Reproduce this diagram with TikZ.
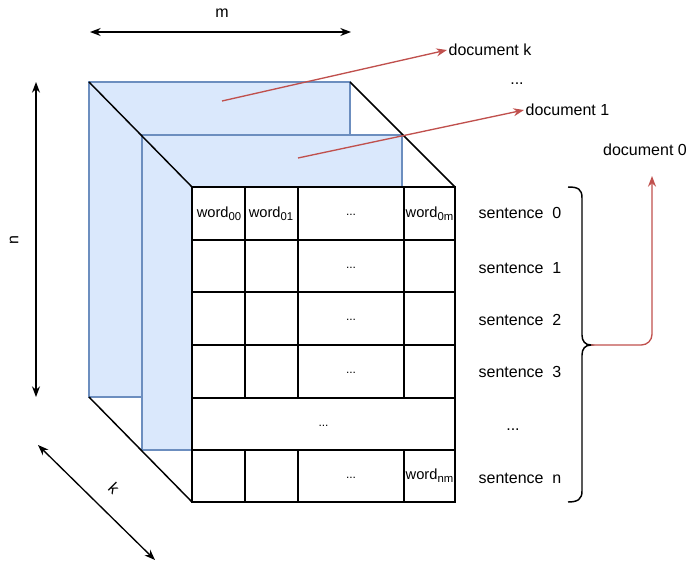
\documentclass[tikz,border=0pt]{standalone}
\usepackage{fontspec}
\setmainfont{Liberation Sans}
\usetikzlibrary{arrows.meta}
\definecolor{planefill}{HTML}{DAE8FC}
\definecolor{planeblue}{HTML}{6C8EBF}
\definecolor{docred}{HTML}{C0504D}
\newcommand{\wordsub}[1]{word\raisebox{-0.35ex}{\fontsize{8.5}{9}\selectfont #1}}
\begin{document}
\begin{tikzpicture}[x=0.75pt,y=-0.75pt,
  plane/.style={draw=planeblue, fill=planefill, line width=0.9pt},
  edge/.style={draw=black, line width=1.1pt},
  celltxt/.style={font=\fontsize{11}{13}\selectfont, inner sep=0pt},
  dots/.style={font=\fontsize{9}{10}\selectfont, inner sep=0pt},
  lbl/.style={font=\fontsize{12}{14}\selectfont, inner sep=1pt},
  redarrow/.style={draw=docred, line width=1pt, -{Stealth[length=8pt,width=6pt]}},
  dimarrow/.style={draw=black, line width=1pt, {Stealth[length=8pt,width=6pt]}-{Stealth[length=8pt,width=6pt]}}]
\useasboundingbox (0,0) rectangle (688,564);

% planes
\draw[plane] (89,82) rectangle (350,397);
\draw[plane] (142,135) rectangle (402,450);

% cube edges
\coordinate (btl) at (89,82);
\coordinate (btr) at (350,82);
\coordinate (bbl) at (89,397);
\coordinate (ftl) at (192,187);
\coordinate (ftr) at (455,187);
\coordinate (fbl) at (192,502);
\draw[edge] (btl) -- (ftl);
\draw[edge] (btr) -- (ftr);
\draw[edge] (bbl) -- (fbl);

% front grid
\draw[edge, fill=white] (192,187) rectangle (455,502);
\foreach \yy in {240,292,345,398,450} \draw[edge] (192,\yy) -- (455,\yy);
\foreach \xx in {245,298,404} {
  \draw[edge] (\xx,187) -- (\xx,398);
  \draw[edge] (\xx,450) -- (\xx,502);
}

% cell texts
\node[celltxt] (w00) at (219,214) {\wordsub{00}};
\node[celltxt] (w01) at (271,214) {\wordsub{01}};
\node[dots] (d0) at (351,215) {...};
\node[celltxt] (w0m) at (429.5,214) {\wordsub{0m}};
\node[dots] (d1) at (351,268) {...};
\node[dots] (d2) at (351,320) {...};
\node[dots] (d3) at (351,373) {...};
\node[dots] (d4) at (323.5,426) {...};
\node[dots] (d5) at (351,478) {...};
\node[celltxt] (wnm) at (429.5,476) {\wordsub{nm}};

% sentence labels
\node[lbl] (s0) at (520,213) {sentence\ \ 0};
\node[lbl] (s1) at (520,268) {sentence\ \ 1};
\node[lbl] (s2) at (520,320) {sentence\ \ 2};
\node[lbl] (s3) at (520,372) {sentence\ \ 3};
\node[lbl] (sd) at (513,430) {...};
\node[lbl] (sn) at (520,478) {sentence\ \ n};

% brace
\coordinate (bracetip) at (591,345);
\draw[edge] (568,187) .. controls (578,187) and (582,189) .. (582,198) -- (582,335)
  .. controls (582,341) and (585,345) .. (bracetip)
  .. controls (585,345) and (582,349) .. (582,355) -- (582,491)
  .. controls (582,499) and (578,502) .. (568,502);

% document labels
\node[lbl, anchor=west] (dk) at (447,50) {document k};
\node[lbl] (ddots) at (517,84) {...};
\node[lbl, anchor=west] (d1doc) at (524,110) {document 1};
\node[lbl] (d0doc) at (645,150) {document 0};

% red arrows
\coordinate (pk) at (222,101);
\coordinate (p1) at (298,158);
\coordinate (d0end) at (652,176);
\draw[redarrow] (pk) -- (dk.west);
\draw[redarrow] (p1) -- (d1doc.west);
\draw[redarrow, rounded corners=8pt] (bracetip) -| (d0end);

% dimension arrows
\coordinate (m1) at (90,32);
\coordinate (m2) at (351,32);
\coordinate (n1) at (36,82);
\coordinate (n2) at (36,397);
\coordinate (k1) at (38,445);
\coordinate (k2) at (155,560);
\draw[dimarrow] (m1) -- (m2);
\draw[dimarrow] (n1) -- (n2);
\draw[dimarrow] (k1) -- (k2);
\node[lbl] (mlab) at (222,13) {m};
\node[lbl, rotate=90] (nlab) at (14,240) {n};
\node[lbl, rotate=-45] (klab) at (114,488) {k};
\end{tikzpicture}
\end{document}
